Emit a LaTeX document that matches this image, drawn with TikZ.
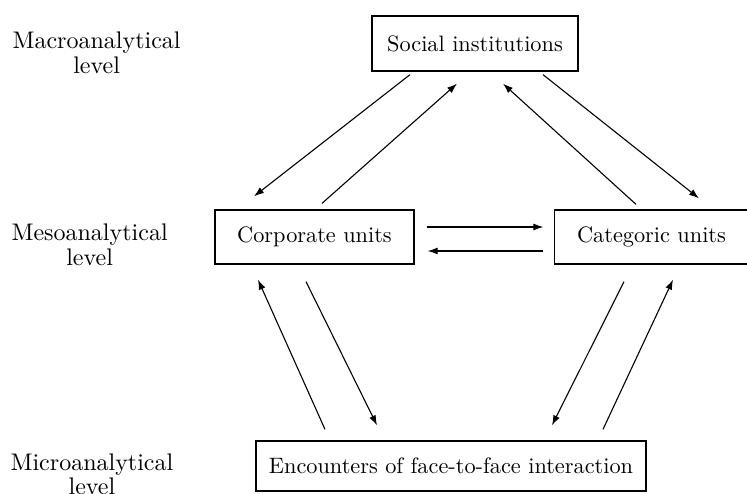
\documentclass[tikz,border=0pt]{standalone}
\usepackage{fontspec}
\setmainfont{lmroman10-regular}[Extension=.otf]
\usepackage{tikz}
\usetikzlibrary{positioning, arrows.meta}

\begin{document}
\begin{tikzpicture}[
  x=1pt, y=1pt,
  every node/.style={font=\fontsize{22.3}{24}\selectfont},
  box/.style={draw, line width=1.3pt, inner sep=0pt},
  lvl/.style={anchor=west, align=center, font=\fontsize{24}{24.5}\selectfont},
  arr/.style={->, >={Latex[length=10pt, width=7pt]}, line width=1.1pt}
]
  \useasboundingbox (0,0) rectangle (747,493);

  % levels
  \node[lvl] (macro) at (9,440)  {Macroanalytical\\level};
  \node[lvl] (meso)  at (8,248)  {Mesoanalytical\\level};
  \node[lvl] (micro) at (7,18.5) {Microanalytical\\level};

  % boxes
  \node[box, minimum width=206pt, minimum height=55pt] (social)    at (475,449.5) {Social institutions};
  \node[box, minimum width=199pt, minimum height=54pt] (corporate) at (314.5,256) {Corporate units};
  \node[box, minimum width=194pt, minimum height=54pt] (categoric) at (651.5,256) {Categoric units};
  \node[box, minimum width=390pt, minimum height=50pt] (encounter) at (451,27)    {Encounters of face-to-face interaction};

  % macro <-> meso
  \draw[arr] ([xshift=-65pt, yshift=-3pt]social.south)      -- ([xshift=-60.5pt, yshift=13pt]corporate.north);
  \draw[arr] ([xshift=7.5pt, yshift=6pt]corporate.north)    -- ([xshift=-18pt, yshift=-12pt]social.south);
  \draw[arr] ([xshift=-15.5pt, yshift=5pt]categoric.north)  -- ([xshift=28pt, yshift=-12pt]social.south);
  \draw[arr] ([xshift=68pt, yshift=-3pt]social.south)       -- ([xshift=47.5pt, yshift=11pt]categoric.north);

  % meso <-> meso
  \draw[arr] ([xshift=12pt, yshift=10pt]corporate.east)     -- ([xshift=-10.5pt, yshift=10pt]categoric.west);
  \draw[arr] ([xshift=-10.5pt, yshift=-14pt]categoric.west) -- ([xshift=13pt, yshift=-14pt]corporate.east);

  % micro <-> meso
  \draw[arr] ([xshift=-126pt, yshift=11pt]encounter.north)  -- ([xshift=-56.5pt, yshift=-15pt]corporate.south);
  \draw[arr] ([xshift=-8.5pt, yshift=-17pt]corporate.south) -- ([xshift=-74pt, yshift=15pt]encounter.north);
  \draw[arr] ([xshift=-27.5pt, yshift=-17pt]categoric.south) -- ([xshift=101pt, yshift=15pt]encounter.north);
  \draw[arr] ([xshift=152pt, yshift=11pt]encounter.north)   -- ([xshift=21.5pt, yshift=-15pt]categoric.south);
\end{tikzpicture}
\end{document}
